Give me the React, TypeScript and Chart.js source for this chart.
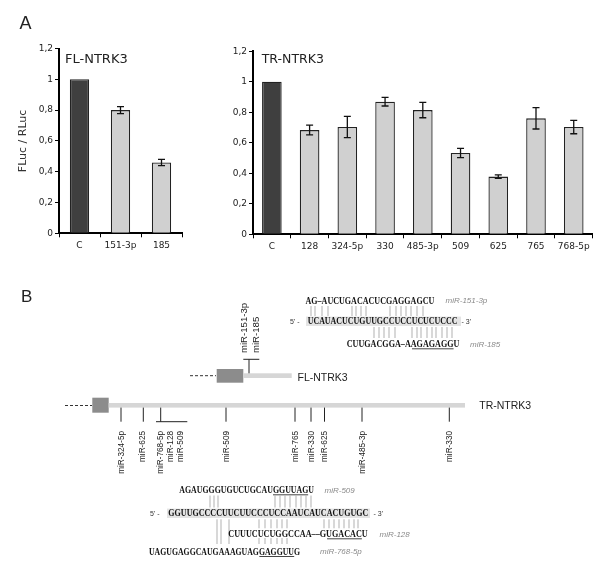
import React, { useEffect, useRef } from "react";
import { Chart, registerables } from "chart.js";
Chart.register(...registerables);

// ---------- Panel A data ----------
const FL_CATEGORIES = ["C", "151-3p", "185"];
const FL_VALUES = [1, 0.8, 0.46];
const FL_ERRORS = [0, 0.023, 0.02];

const TR_CATEGORIES = ["C", "128", "324-5p", "330", "485-3p", "509", "625", "765", "768-5p"];
const TR_VALUES = [1, 0.683, 0.703, 0.869, 0.814, 0.533, 0.378, 0.76, 0.703];
const TR_ERRORS = [0, 0.032, 0.07, 0.028, 0.05, 0.03, 0.012, 0.07, 0.044];

const Y_TICK_LABELS = ["0", "0,2", "0,4", "0,6", "0,8", "1", "1,2"];

// ---------- Panel B data ----------
const FL_SITES = ["miR-151-3p", "miR-185"];
const TR_SITES = ["miR-324-5p", "miR-625", "miR-768-5p", "miR-128", "miR-509", "miR-509", "miR-765", "miR-330", "miR-625", "miR-485-3p", "miR-330"];
const MIR151 = "AG–AUCUGACACUCGAGGAGCU";
const TARGET_FL = "UCAUACUCUGUUGCCUCCUCUCUCCC";
const MIR185 = "CUUGACGGA–AAGAGAGGU";
const MIR509 = "AGAUGGGUGUCUGCAUGGUUAGU";
const TARGET_TR = "GGUUGCCCCUUCUUCCCUCCAAUCAUCACUGUGC";
const MIR128 = "CUUUCUCUGGCCAA––GUGACACU";
const MIR768 = "UAGUGAGGCAUGAAAGUAGGAGGUUG";

// ---------- layout for panel B ----------
const TR_SITE_X = [121.5, 142, 160.5, 170.5, 180.5, 226.5, 295, 311, 324.5, 362, 449.3];
const TR_TICK_X = [121, 143.3, 160.7, 226, 295, 311, 324.5, 362, 449.3];
const PAIR_151 = [311, 315, 322, 328, 352, 356, 361, 366, 390, 396, 401, 406, 411, 417, 423];
const PAIR_185 = [374, 379, 384, 389, 395, 412, 417, 421, 427, 432, 436, 442, 447, 452];
const PAIR_509 = [210, 214, 218, 275, 280, 285, 290, 296, 301, 306, 311];
const PAIR_128 = [259, 265, 271, 277, 282, 287, 324, 329, 334, 339, 344, 349, 354, 358];
const PAIR_768_LONG = [217, 221, 229];
const PAIR_768_SHORT = [259, 265, 271, 277, 282, 287];

const DARK = "#3f3f3f";
const LIGHT = "#d0d0d0";

const errorBarPlugin = {
  id: "errorBars",
  afterDatasetsDraw(chart: any, _args: any, opts: any) {
    const errs: number[] = opts.errors || [];
    const meta = chart.getDatasetMeta(0);
    const y = chart.scales.y;
    const ctx = chart.ctx;
    ctx.save();
    ctx.strokeStyle = "#111";
    ctx.lineWidth = 1.3;
    meta.data.forEach((bar: any, i: number) => {
      const e = errs[i];
      if (!e) return;
      const v = chart.data.datasets[0].data[i] as number;
      const x = bar.x;
      const t = y.getPixelForValue(v + e);
      const b = y.getPixelForValue(v - e);
      ctx.beginPath();
      ctx.moveTo(x, t);
      ctx.lineTo(x, b);
      ctx.moveTo(x - 3.5, t);
      ctx.lineTo(x + 3.5, t);
      ctx.moveTo(x - 3.5, b);
      ctx.lineTo(x + 3.5, b);
      ctx.stroke();
    });
    ctx.restore();
  },
};

const panelTitlePlugin = {
  id: "panelTitle",
  afterDraw(chart: any, _args: any, opts: any) {
    const ctx = chart.ctx;
    const a = chart.chartArea;
    ctx.save();
    ctx.font = `${opts.size}px 'DejaVu Sans', Verdana, sans-serif`;
    ctx.fillStyle = "#222";
    ctx.textBaseline = "middle";
    ctx.textAlign = "left";
    ctx.fillText(opts.text, a.left + opts.dx, a.top + opts.dy);
    ctx.restore();
  },
};

type PanelProps = {
  left: number; top: number; width: number; height: number;
  categories: string[]; values: number[]; errors: number[];
  title: string; titleSize: number; titleDx: number; titleDy: number;
  yTitle?: string; axisWidth: number; padRight: number; padTop: number; xHeight: number; barPct: number;
};

function BarPanel(p: PanelProps) {
  const ref = useRef<HTMLCanvasElement>(null);
  useEffect(() => {
    const tickFont = { family: "'DejaVu Sans', Verdana, sans-serif", size: 9 };
    const chart = new Chart(ref.current as HTMLCanvasElement, {
      type: "bar",
      data: {
        labels: p.categories,
        datasets: [
          {
            data: p.values,
            backgroundColor: p.values.map((_, i) => (i === 0 ? DARK : LIGHT)),
            borderColor: "#222",
            borderWidth: 1.3,
            barPercentage: p.barPct,
            categoryPercentage: 1,
          },
        ],
      },
      options: {
        responsive: false,
        animation: false,
        devicePixelRatio: 1,
        layout: { padding: { top: p.padTop, right: p.padRight, left: 0, bottom: 0 } },
        plugins: {
          legend: { display: false },
          tooltip: { enabled: false },
          errorBars: { errors: p.errors },
          panelTitle: { text: p.title, size: p.titleSize, dx: p.titleDx, dy: p.titleDy },
        } as any,
        scales: {
          x: {
            grid: { display: true, drawOnChartArea: false, drawTicks: true, tickLength: 4, tickColor: "#000", tickWidth: 1, offset: true },
            border: { display: true, color: "#000", width: 2 },
            ticks: { color: "#222", font: tickFont, padding: 3, maxRotation: 0, minRotation: 0, autoSkip: false },
            afterFit: (s: any) => { s.height = p.xHeight; },
          },
          y: {
            min: 0,
            max: 1.2,
            ticks: {
              stepSize: 0.2,
              color: "#222",
              font: tickFont,
              padding: 2,
              callback: (_v: any, i: number) => Y_TICK_LABELS[i],
            },
            grid: { display: true, drawOnChartArea: false, drawTicks: true, tickLength: 4, tickColor: "#000", tickWidth: 1 },
            border: { display: true, color: "#000", width: 2 },
            title: p.yTitle
              ? { display: true, text: p.yTitle, color: "#333", font: { family: "'DejaVu Sans', Verdana, sans-serif", size: 11 }, padding: { top: 4, bottom: 4 } }
              : { display: false },
            afterFit: (s: any) => { s.width = p.axisWidth; },
          },
        },
      } as any,
      plugins: [errorBarPlugin, panelTitlePlugin],
    });
    return () => chart.destroy();
  }, []);
  return (
    <canvas
      ref={ref}
      width={p.width}
      height={p.height}
      style={{ position: "absolute", left: p.left, top: p.top, width: p.width, height: p.height }}
    />
  );
}

const SEQ_FONT = "'Liberation Serif', 'Times New Roman', serif";
const SANS = "'Liberation Sans', Arial, sans-serif";

function Seq({ text, x0, x1, y, ul }: { text: string; x0: number; x1: number; y: number; ul?: [number, number] }) {
  const w = (x1 - x0) / text.length;
  return (
    <g>
      <text x={x0} y={y} textLength={x1 - x0} lengthAdjust="spacingAndGlyphs" dominantBaseline="central"
        fontFamily={SEQ_FONT} fontWeight="bold" fontSize={9.4} fill="#141414">{text}</text>
      {ul && <line x1={x0 + ul[0] * w} x2={x0 + (ul[1] + 1) * w} y1={y + 4.8} y2={y + 4.8} stroke="#141414" strokeWidth={0.8} />}
    </g>
  );
}

function MirLabel({ x, y, text }: { x: number; y: number; text: string }) {
  return <text x={x} y={y} dominantBaseline="central" fontFamily={SANS} fontStyle="italic" fontSize={8} fill="#8a8a8a">{text}</text>;
}

function Pairs({ xs, y1, y2 }: { xs: number[]; y1: number; y2: number }) {
  return <g>{xs.map((x, i) => <line key={i} x1={x} x2={x} y1={y1} y2={y2} stroke="#a8a8a8" strokeWidth={0.9} />)}</g>;
}

function PanelB() {
  return (
    <svg width={600} height={567} style={{ position: "absolute", left: 0, top: 0 }}>
      <text x={19.5} y={28.5} fontFamily={SANS} fontSize={18} fill="#222">A</text>
      <text x={21} y={301.5} fontFamily={SANS} fontSize={17} fill="#222">B</text>

      {/* FL-NTRK3 */}
      <line x1={190} x2={216} y1={375.7} y2={375.7} stroke="#333" strokeWidth={1} strokeDasharray="3 2" />
      <rect x={216.7} y={369} width={26.6} height={13.7} fill="#8c8c8c" />
      <rect x={243.3} y={373.3} width={48.4} height={4.7} fill="#d6d6d6" />
      <line x1={249} x2={249} y1={359.3} y2={373.3} stroke="#222" strokeWidth={1} />
      <line x1={243.3} x2={259.3} y1={359.3} y2={359.3} stroke="#222" strokeWidth={1} />
      {FL_SITES.map((s, i) => (
        <text key={s} transform={`translate(${[243.8, 255.8][i]},353) rotate(-90)`} textAnchor="start" dominantBaseline="central"
          fontFamily={SANS} fontSize={9.6} fill="#222">{s}</text>
      ))}
      <text x={297.5} y={376.5} dominantBaseline="central" fontFamily={SANS} fontSize={10.5} fill="#222">FL-NTRK3</text>

      {/* TR-NTRK3 */}
      <line x1={65} x2={92} y1={405.5} y2={405.5} stroke="#333" strokeWidth={1} strokeDasharray="3 2" />
      <rect x={92.3} y={397.7} width={16.4} height={15} fill="#8c8c8c" />
      <rect x={108.7} y={403} width={356.3} height={4.6} fill="#d6d6d6" />
      <text x={479.3} y={405} dominantBaseline="central" fontFamily={SANS} fontSize={10.5} fill="#222">TR-NTRK3</text>
      {TR_TICK_X.map((x, i) => (
        <line key={i} x1={x} x2={x} y1={407.6} y2={421.7} stroke="#222" strokeWidth={1} />
      ))}
      <line x1={156} x2={187.3} y1={421.7} y2={421.7} stroke="#222" strokeWidth={1} />
      {TR_SITES.map((s, i) => (
        <text key={i} transform={`translate(${TR_SITE_X[i]},431) rotate(-90)`} textAnchor="end" dominantBaseline="central"
          fontFamily={SANS} fontSize={8.2} fill="#222">{s}</text>
      ))}

      {/* miR-151-3p / miR-185 on FL */}
      <Seq text={MIR151} x0={305.5} x1={434.3} y={300.5} />
      <MirLabel x={445.5} y={300.5} text="miR-151-3p" />
      <Pairs xs={PAIR_151} y1={306} y2={316} />
      <rect x={306} y={316.6} width={155} height={9.4} fill="#e4e4e4" />
      <text x={290} y={321.3} dominantBaseline="central" fontFamily={SANS} fontSize={7} fill="#333">5' -</text>
      <Seq text={TARGET_FL} x0={307.7} x1={457.5} y={321.3} />
      <text x={461.5} y={321.3} dominantBaseline="central" fontFamily={SANS} fontSize={7} fill="#333">- 3'</text>
      <Pairs xs={PAIR_185} y1={327} y2={338} />
      <Seq text={MIR185} x0={346.7} x1={459.5} y={344} ul={[11, 17]} />
      <MirLabel x={470} y={344} text="miR-185" />

      {/* miR-509 / miR-128 / miR-768-5p on TR */}
      <Seq text={MIR509} x0={179.3} x1={314} y={490} ul={[16, 21]} />
      <MirLabel x={324.5} y={490} text="miR-509" />
      <Pairs xs={PAIR_509} y1={495.5} y2={507.5} />
      <rect x={167} y={508.6} width={203} height={9.4} fill="#e4e4e4" />
      <text x={150} y={513.3} dominantBaseline="central" fontFamily={SANS} fontSize={7} fill="#333">5' -</text>
      <Seq text={TARGET_TR} x0={168.3} x1={368.3} y={513.3} />
      <text x={373.5} y={513.3} dominantBaseline="central" fontFamily={SANS} fontSize={7} fill="#333">- 3'</text>
      <Pairs xs={PAIR_128} y1={519.3} y2={528.3} />
      <Pairs xs={PAIR_768_LONG} y1={519.3} y2={544} />
      <Seq text={MIR128} x0={228.3} x1={367.7} y={534} ul={[17, 22]} />
      <MirLabel x={379.5} y={534} text="miR-128" />
      <Pairs xs={PAIR_768_SHORT} y1={538} y2={544} />
      <Seq text={MIR768} x0={149} x1={300} y={551.7} ul={[19, 24]} />
      <MirLabel x={320} y={551.7} text="miR-768-5p" />
    </svg>
  );
}

export default function App() {
  return (
    <div style={{ position: "absolute", left: 0, top: 0, width: 600, height: 567, background: "#fff" }}>
      <BarPanel
        left={13} top={30} width={187} height={230}
        categories={FL_CATEGORIES} values={FL_VALUES} errors={FL_ERRORS}
        title="FL-NTRK3" titleSize={13} titleDx={6} titleDy={11.5}
        yTitle="FLuc / RLuc" axisWidth={46} padRight={18} padTop={18.5} xHeight={26.7} barPct={0.47}
      />
      <BarPanel
        left={220} top={30} width={380} height={230}
        categories={TR_CATEGORIES} values={TR_VALUES} errors={TR_ERRORS}
        title="TR-NTRK3" titleSize={12.5} titleDx={8.7} titleDy={8.1}
        axisWidth={33} padRight={7.4} padTop={21.2} xHeight={25.7} barPct={0.52}
      />
      <PanelB />
    </div>
  );
}
